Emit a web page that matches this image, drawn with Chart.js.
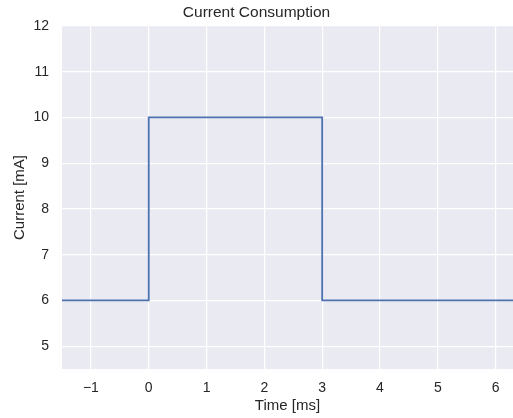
<!DOCTYPE html>
<html>
<head>
<meta charset="utf-8">
<script src="https://cdn.jsdelivr.net/npm/chart.js@4/dist/chart.umd.min.js"></script>
<style>
  html, body { margin: 0; padding: 0; background: #ffffff; }
  #wrap { width: 513px; height: 418px; }
</style>
</head>
<body>
<div id="wrap"><canvas id="c" width="513" height="418"></canvas></div>
<script>
// Supply current over one active pulse
const timeMs = [-1.5, 0, 0, 3, 3, 6.3];
const currentMa = [6, 6, 10, 10, 6, 6];
const xTicks = [-1, 0, 1, 2, 3, 4, 5, 6];
const yTicks = [5, 6, 7, 8, 9, 10, 11, 12];

const textColor = '#262626';
const fontFamily = '"Liberation Sans", Arial, sans-serif';

// Fill the plotting area with the pale blue-grey panel colour
const panelBackground = {
  id: 'panelBackground',
  beforeDraw(chart) {
    const { ctx, chartArea: a } = chart;
    ctx.save();
    ctx.fillStyle = '#EAEAF2';
    ctx.fillRect(a.left, a.top, a.right - a.left, a.bottom - a.top);
    ctx.restore();
  }
};

new Chart(document.getElementById('c'), {
  type: 'line',
  data: {
    datasets: [{
      data: timeMs.map((t, i) => ({ x: t, y: currentMa[i] })),
      borderColor: '#4C72B0',
      borderWidth: 1.8,
      pointRadius: 0,
      fill: false,
      tension: 0
    }]
  },
  options: {
    responsive: false,
    animation: false,
    layout: { padding: 0 },
    plugins: {
      legend: { display: false },
      tooltip: { enabled: false },
      title: {
        display: true,
        text: 'Current Consumption',
        color: textColor,
        font: { family: fontFamily, size: 15.5, weight: 'normal' },
        padding: { top: 3.5, bottom: 3.9 }
      }
    },
    scales: {
      x: {
        type: 'linear',
        min: -1.5,
        max: 6.3,
        border: { display: false },
        grid: { color: '#ffffff', lineWidth: 1.2, drawTicks: false },
        afterBuildTicks(scale) { scale.ticks = xTicks.map(v => ({ value: v })); },
        afterFit(scale) { scale.height = 49; },
        ticks: {
          color: textColor,
          padding: 11,
          font: { family: fontFamily, size: 14 },
          callback: v => (v < 0 ? '\u2212' + Math.abs(v) : String(v))
        },
        title: {
          display: true,
          text: 'Time [ms]',
          color: textColor,
          font: { family: fontFamily, size: 15 },
          padding: { top: 0, bottom: 3 }
        }
      },
      y: {
        type: 'linear',
        min: 4.5,
        max: 12,
        border: { display: false },
        grid: { color: '#ffffff', lineWidth: 1.2, drawTicks: false },
        afterBuildTicks(scale) { scale.ticks = yTicks.map(v => ({ value: v })); },
        afterFit(scale) { scale.width = 62; },
        ticks: {
          color: textColor,
          padding: 13,
          font: { family: fontFamily, size: 14 }
        },
        title: {
          display: true,
          text: 'Current [mA]',
          color: textColor,
          font: { family: fontFamily, size: 15 },
          padding: { top: 11, bottom: 0 }
        }
      }
    }
  },
  plugins: [panelBackground]
});
</script>
</body>
</html>
